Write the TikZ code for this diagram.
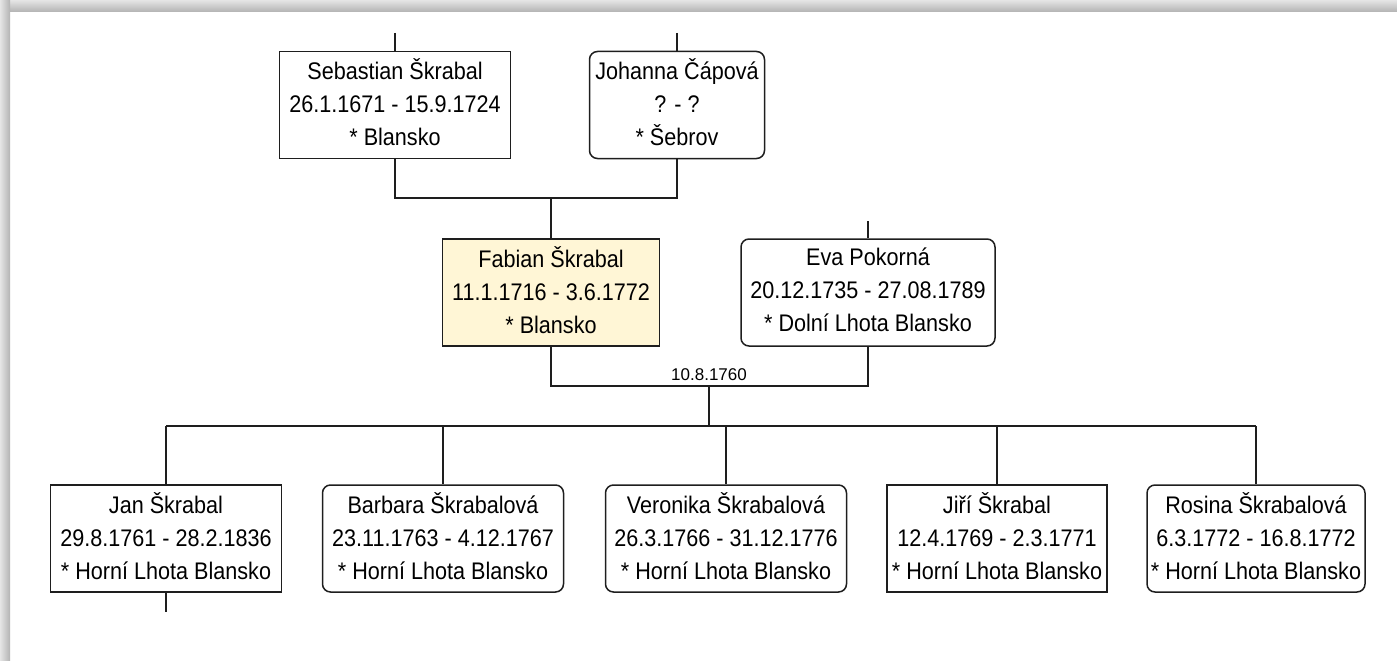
\documentclass[tikz,border=0pt]{standalone}
\usepackage{fontspec}
\setmainfont{Liberation Sans}
\newfontfamily\boxfont[FakeStretch=0.9]{Liberation Sans}
\usetikzlibrary{positioning}
\usetikzlibrary{calc}
\definecolor{probandfill}{RGB}{255,246,214}
\definecolor{edgegray}{RGB}{30,30,30}

\begin{document}
\begin{tikzpicture}[x=1pt,y=-1pt]
		\tikzset{person/.style = {shape=rectangle, draw=edgegray, line width=1.5pt, align=center, inner sep=0pt, minimum height=107pt,
				font=\boxfont\fontsize{24}{33}\selectfont,
				execute at begin node=\rule{0pt}{23pt}, execute at end node=\rule[-5pt]{0pt}{5pt}},
			male/.style = {person},
			female/.style = {person, rounded corners=8pt},
			link/.style = {draw=edgegray, line width=1.5pt}}
		\useasboundingbox (0,0) rectangle (1397,661);
		% window shadow
		\shade[top color=gray!20, bottom color=gray!60] (0,0) rectangle (1397,12);
		\shade[left color=gray!20, right color=gray!60] (0,0) rectangle (10,661);
		
		\node[male, minimum width=231pt] (SEBASTIAN) at (395,105)
		{Sebastian Škrabal\\26.1.1671 - 15.9.1724\\* Blansko};
		\node[female, minimum width=175pt] (JOHANNA) at (677,105)
		{Johanna Čápová\\? - ?\\* Šebrov};
		\node[male, fill=probandfill, minimum width=217pt] (FABIAN) at (551,292.5)
		{Fabian Škrabal\\11.1.1716 - 3.6.1772\\* Blansko};
		\node[female, minimum width=254pt] (EVA) at (868,292.5)
		{Eva Pokorná\\20.12.1735 - 27.08.1789\\* Dolní Lhota Blansko};
		
		\node[male, minimum width=231pt] (JAN) at (166,538.5)
		{Jan Škrabal\\29.8.1761 - 28.2.1836\\* Horní Lhota Blansko};
		\node[female, minimum width=241pt] (BARBARA) at (443,538.5)
		{Barbara Škrabalová\\23.11.1763 - 4.12.1767\\* Horní Lhota Blansko};
		\node[female, minimum width=241pt] (VERONIKA) at (726,538.5)
		{Veronika Škrabalová\\26.3.1766 - 31.12.1776\\* Horní Lhota Blansko};
		\node[male, minimum width=220pt] (JIRI) at (997,538.5)
		{Jiří Škrabal\\12.4.1769 - 2.3.1771\\* Horní Lhota Blansko};
		\node[female, minimum width=218pt] (ROSINA) at (1256,538.5)
		{Rosina Škrabalová\\6.3.1772 - 16.8.1772\\* Horní Lhota Blansko};
		
		\coordinate (SEBTOP) at (395,33);
		\coordinate (JOHTOP) at (677,33);
		\coordinate (PARJOIN) at (551,198);
		\coordinate (EVATOP) at (868,221);
		\coordinate (WEDDING) at (709,386);
		\coordinate (KIDSJOIN) at (709,426);
		\coordinate (JANDOWN) at (166,612);
		
		\draw[link] (SEBTOP) -- (SEBASTIAN.north);
		\draw[link] (JOHTOP) -- (JOHANNA.north);
		\draw[link] (SEBASTIAN.south) |- (PARJOIN) -| (JOHANNA.south);
		\draw[link] (PARJOIN) -- (FABIAN.north);
		\draw[link] (EVATOP) -- (EVA.north);
		\draw[link] (FABIAN.south) |- (WEDDING) -| (EVA.south);
		\node[above, inner sep=5pt, font=\fontsize{17}{20}\selectfont] (WEDDATE) at (WEDDING) {10.8.1760};
		\draw[link] (WEDDING) -- (KIDSJOIN);
		\draw[link] (JAN.north |- KIDSJOIN) -- (ROSINA.north |- KIDSJOIN);
		\foreach \kid in {JAN,BARBARA,VERONIKA,JIRI,ROSINA}
		\draw[link] (\kid.north |- KIDSJOIN) -- (\kid.north);
		\draw[link] (JAN.south) -- (JANDOWN);
		
\end{tikzpicture}
\end{document}
